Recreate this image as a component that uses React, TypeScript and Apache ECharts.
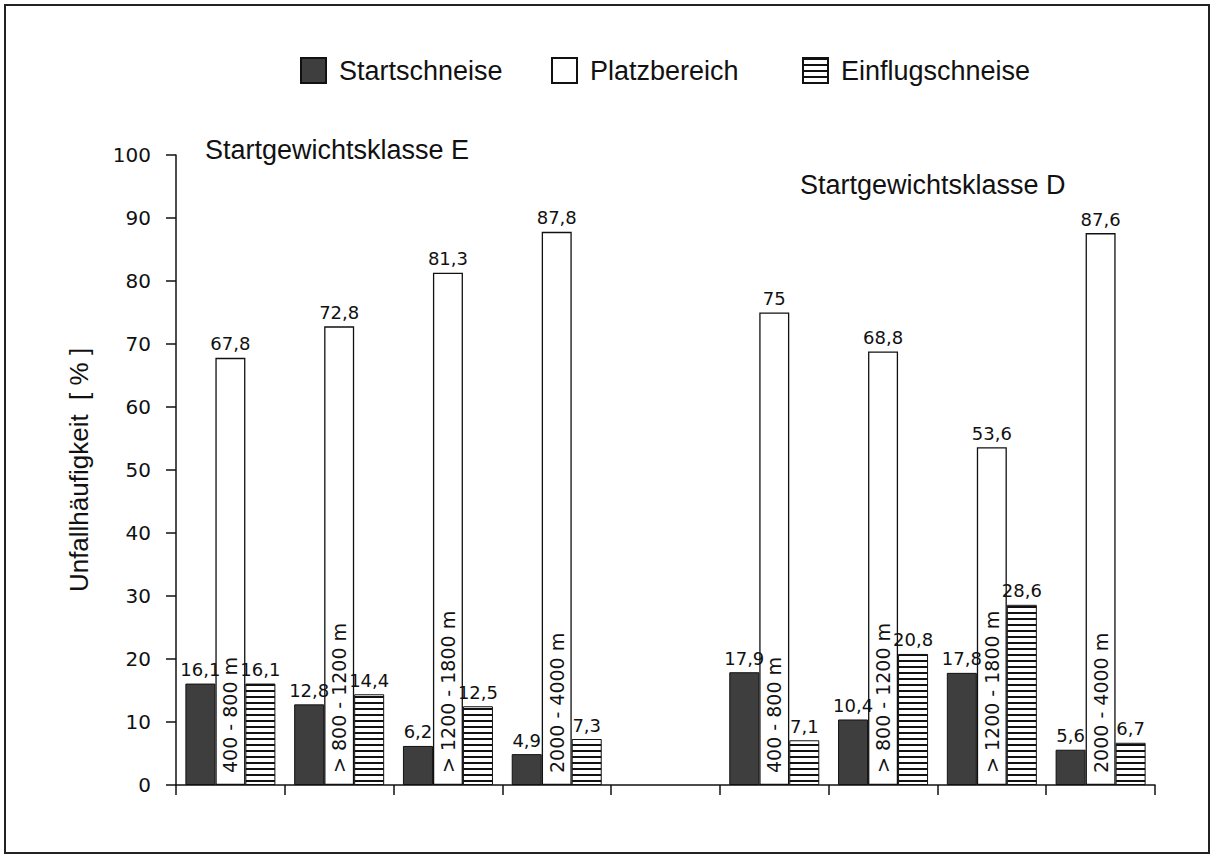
import React, { useEffect, useRef } from "react";
import * as echarts from "echarts";

const categories = [
  "400 - 800 m",
  "> 800 - 1200 m",
  "> 1200 - 1800 m",
  "2000 - 4000 m",
  "",
  "400 - 800 m",
  "> 800 - 1200 m",
  "> 1200 - 1800 m",
  "2000 - 4000 m",
];
const startschneise = [16.1, 12.8, 6.2, 4.9, null, 17.9, 10.4, 17.8, 5.6];
const platzbereich = [67.8, 72.8, 81.3, 87.8, null, 75, 68.8, 53.6, 87.6];
const einflugschneise = [16.1, 14.4, 12.5, 7.3, null, 7.1, 20.8, 28.6, 6.7];
const seriesNames = ["Startschneise", "Platzbereich", "Einflugschneise"];
const groupTitles = ["Startgewichtsklasse E", "Startgewichtsklasse D"];
const yAxisName = "Unfallhäufigkeit  [ % ]";

const FONT = "Liberation Sans";
const NUMFONT = "DejaVu Sans";
const legendLefts = [300, 551, 802];

function makeHatch() {
  const c = document.createElement("canvas");
  c.width = 4;
  c.height = 6;
  const ctx = c.getContext("2d")!;
  ctx.fillStyle = "#ffffff";
  ctx.fillRect(0, 0, 4, 6);
  ctx.fillStyle = "#111111";
  ctx.fillRect(0, 0, 4, 2);
  return c;
}

export default function App() {
  const ref = useRef<HTMLDivElement>(null);
  useEffect(() => {
    if (!ref.current) return;
    const chart = echarts.init(ref.current, null, { renderer: "svg" });
    const hatch = makeHatch();
    const fmt = (p: any) =>
      p.value == null ? "" : String(p.value).replace(".", ",");
    const label = {
      show: true,
      position: "top",
      distance: 5,
      fontSize: 18,
      fontFamily: NUMFONT,
      color: "#111",
      formatter: fmt,
    };
    chart.setOption({
      animation: false,
      backgroundColor: "#ffffff",
      textStyle: { fontFamily: FONT },
      title: [
        {
          text: groupTitles[0],
          left: 205,
          top: 136,
          padding: 0,
          textStyle: { fontSize: 27, fontWeight: "normal", color: "#111", fontFamily: FONT },
        },
        {
          text: groupTitles[1],
          left: 800,
          top: 171,
          padding: 0,
          textStyle: { fontSize: 27, fontWeight: "normal", color: "#111", fontFamily: FONT },
        },
      ],
      legend: seriesNames.map((name, i) => ({
        data: [name],
        left: legendLefts[i],
        top: 57,
        padding: 0,
        icon: "rect",
        itemWidth: 25,
        itemHeight: 25,
        textStyle: {
          fontSize: 27,
          color: "#111",
          fontFamily: FONT,
          padding: [0, 0, 0, 8],
        },
      })),
      graphic: [
        {
          type: "rect",
          shape: { x: 5, y: 5, width: 1204, height: 848 },
          style: { fill: "none", stroke: "#222", lineWidth: 2 },
          silent: true,
        },
      ],
      grid: { left: 176, right: 60, top: 155, bottom: 73 },
      xAxis: {
        type: "category",
        data: categories,
        z: 10,
        axisLine: { lineStyle: { color: "#111", width: 1.5 } },
        axisTick: { show: true, length: 10, alignWithLabel: false, lineStyle: { color: "#111", width: 1.5 } },
        axisLabel: {
          inside: true,
          rotate: 90,
          interval: 0,
          margin: 12,
          fontSize: 19,
          fontFamily: NUMFONT,
          color: "#111",
        },
        splitLine: { show: false },
      },
      yAxis: {
        type: "value",
        min: 0,
        max: 100,
        interval: 10,
        name: yAxisName,
        nameLocation: "middle",
        nameGap: 84,
        nameTextStyle: { fontSize: 26, fontFamily: FONT, color: "#111" },
        axisLine: { show: true, lineStyle: { color: "#111", width: 1.5 } },
        axisTick: { show: true, length: 10, lineStyle: { color: "#111", width: 1.5 } },
        axisLabel: { margin: 25, fontSize: 20, fontFamily: NUMFONT, color: "#111" },
        splitLine: { show: false },
      },
      series: [
        {
          name: seriesNames[0],
          type: "bar",
          data: startschneise,
          barWidth: 30,
          barGap: "0%",
          itemStyle: { color: "#3e3e3e", borderColor: "#111", borderWidth: 1 },
          label,
        },
        {
          name: seriesNames[1],
          type: "bar",
          data: platzbereich,
          barWidth: 30,
          barGap: "0%",
          itemStyle: { color: "#ffffff", borderColor: "#111", borderWidth: 1.3 },
          label,
        },
        {
          name: seriesNames[2],
          type: "bar",
          data: einflugschneise,
          barWidth: 30,
          barGap: "0%",
          itemStyle: { color: { image: hatch, repeat: "repeat" }, borderColor: "#111", borderWidth: 1 },
          label,
        },
      ],
    });
    return () => chart.dispose();
  }, []);
  return (
    <div
      ref={ref}
      style={{ position: "fixed", left: 0, top: 0, width: 1215, height: 858, background: "#fff" }}
    />
  );
}
